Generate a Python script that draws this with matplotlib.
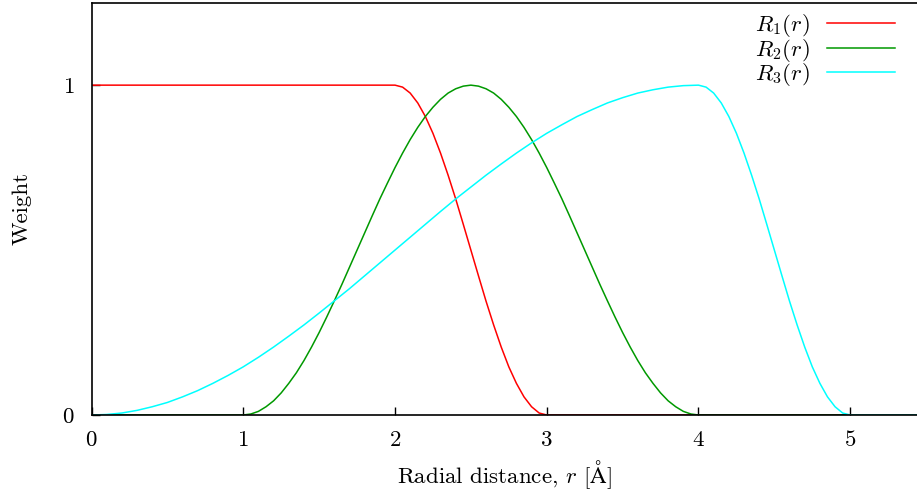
import matplotlib
matplotlib.use('Agg')
import matplotlib.pyplot as plt

plt.rcParams['font.family'] = 'serif'
plt.rcParams['font.serif'] = ['cmr10', 'DejaVu Serif']
plt.rcParams['mathtext.fontset'] = 'cm'
plt.rcParams['axes.unicode_minus'] = False
plt.rcParams['axes.formatter.use_mathtext'] = True

# R1: flat at 1 up to r = 2, smooth cut-off to 0 at r = 3
r1 = [0.0, 2.0, 2.05, 2.1, 2.15, 2.2, 2.25, 2.3, 2.35, 2.4, 2.45, 2.5,
      2.55, 2.6, 2.65, 2.7, 2.75, 2.8, 2.85, 2.9, 2.95, 3.0, 5.5]
w1 = [1.0, 1.0, 0.994, 0.976, 0.946, 0.905, 0.854, 0.794, 0.727, 0.655, 0.578, 0.5,
      0.422, 0.345, 0.273, 0.206, 0.146, 0.096, 0.055, 0.025, 0.006, 0.0, 0.0]

# R2: zero below r = 1, peak 1 at r = 2.5, back to 0 at r = 4
r2 = [0.0, 1.0, 1.05, 1.1, 1.15, 1.2, 1.25, 1.3, 1.35, 1.4, 1.45, 1.5, 1.55, 1.6,
      1.65, 1.7, 1.75, 1.8, 1.85, 1.9, 1.95, 2.0, 2.05, 2.1, 2.15, 2.2, 2.25, 2.3,
      2.35, 2.4, 2.45, 2.5, 2.55, 2.6, 2.65, 2.7, 2.75, 2.8, 2.85, 2.9, 2.95, 3.0,
      3.05, 3.1, 3.15, 3.2, 3.25, 3.3, 3.35, 3.4, 3.45, 3.5, 3.55, 3.6, 3.65, 3.7,
      3.75, 3.8, 3.85, 3.9, 3.95, 4.0, 5.5]
w2 = [0.0, 0.0, 0.003, 0.011, 0.025, 0.043, 0.067, 0.096, 0.128, 0.165, 0.206,
      0.25, 0.297, 0.346, 0.396, 0.448, 0.5, 0.552, 0.604, 0.655, 0.703, 0.75,
      0.794, 0.835, 0.872, 0.905, 0.933, 0.957, 0.976, 0.989, 0.997, 1.0, 0.997,
      0.989, 0.976, 0.957, 0.933, 0.905, 0.872, 0.835, 0.794, 0.75, 0.703, 0.655,
      0.604, 0.552, 0.5, 0.448, 0.396, 0.346, 0.297, 0.25, 0.206, 0.165, 0.128,
      0.096, 0.067, 0.043, 0.025, 0.011, 0.003, 0.0, 0.0]

# R3: slow rise from 0 to 1 at r = 4, cut-off to 0 at r = 5
r3 = [0.0, 0.1, 0.2, 0.3, 0.4, 0.5, 0.6, 0.7, 0.8, 0.9, 1.0, 1.1, 1.2, 1.3, 1.4, 1.5,
      1.6, 1.7, 1.8, 1.9, 2.0, 2.1, 2.2, 2.3, 2.4, 2.5, 2.6, 2.7, 2.8, 2.9, 3.0, 3.1,
      3.2, 3.3, 3.4, 3.5, 3.6, 3.7, 3.8, 3.9, 4.0, 4.05, 4.1, 4.15, 4.2, 4.25, 4.3,
      4.35, 4.4, 4.45, 4.5, 4.55, 4.6, 4.65, 4.7, 4.75, 4.8, 4.85, 4.9, 4.95, 5.0, 5.5]
w3 = [0.0, 0.0015, 0.006, 0.014, 0.025, 0.038, 0.055, 0.074, 0.096, 0.12, 0.146,
      0.175, 0.206, 0.239, 0.273, 0.309, 0.346, 0.383, 0.422, 0.461, 0.5, 0.539,
      0.578, 0.617, 0.655, 0.691, 0.727, 0.761, 0.794, 0.825, 0.854, 0.880, 0.905,
      0.926, 0.946, 0.962, 0.976, 0.986, 0.994, 0.9985, 1.0, 0.994, 0.976, 0.946,
      0.905, 0.854, 0.794, 0.727, 0.655, 0.578, 0.5, 0.422, 0.345, 0.273, 0.206,
      0.146, 0.096, 0.055, 0.025, 0.006, 0.0, 0.0]

labels = ['$R_1(r)$', '$R_2(r)$', '$R_3(r)$']
colors = ['#ff0000', '#009900', '#00ffff']

fs = 16.5

fig = plt.figure(figsize=(9.17, 4.97), dpi=100)
ax = fig.add_axes([0.0998, 0.165, 0.9002, 0.8296])

for r, w, lab, c in zip([r1, r2, r3], [w1, w2, w3], labels, colors):
    ax.plot(r, w, color=c, lw=1.1, label=lab)

ax.set_xlim(0, 5.44)
ax.set_ylim(0, 1.25)
ax.set_xticks([0, 1, 2, 3, 4, 5])
ax.set_yticks([0, 1])
ax.tick_params(axis='x', direction='in', length=6, width=1, pad=11,
               labelsize=fs, top=False)
ax.tick_params(axis='y', direction='in', length=6, width=1, pad=12,
               labelsize=fs, right=False)
ax.spines['right'].set_visible(False)
for s in ['left', 'bottom', 'top']:
    ax.spines[s].set_linewidth(1.2)

ax.set_xlabel(r'Radial distance, $r$ [$\mathrm{\AA}$]', fontsize=fs, labelpad=6)
ax.set_ylabel('Weight', fontsize=fs, labelpad=22)

ax.legend(loc='upper right', bbox_to_anchor=(0.984, 0.999), frameon=False,
          markerfirst=False, fontsize=fs, handlelength=2.93, handletextpad=0.79,
          labelspacing=-0.11, borderaxespad=0)

fig.savefig('out.png', dpi=100)
